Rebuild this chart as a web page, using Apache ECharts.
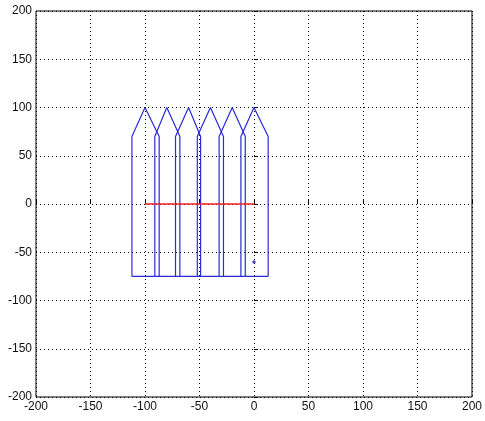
<!DOCTYPE html>
<html>
<head>
<meta charset="utf-8">
<script src="https://cdn.jsdelivr.net/npm/echarts@6/dist/echarts.min.js"></script>
<style>
  html, body { margin: 0; padding: 0; background: #fff; }
  #chart { width: 485px; height: 421px; }
</style>
</head>
<body>
<div id="chart"></div>
<script>
// 栅栏的每根木条 (左边, 尖顶, 右边)
var pickLeft  = [-112, -91, -72, -52, -32, -12];
var pickPeak  = [-100, -80, -60, -40, -20, 0];
var pickRight = [-87, -68, -49, -28, -8, 13];
var baseY = -75;
var shoulderY = 70;
var peakY = 100;
// 红线
var redX = [-100, 0];
var redY = [0, 0];
// 小点
var dotPoint = [0, -60];
var ticks = [-200, -150, -100, -50, 0, 50, 100, 150, 200];

var blue = '#2a2ad8';
var series = [];
for (var i = 0; i < pickPeak.length; i++) {
    series.push({
        type: 'line',
        data: [
            [pickLeft[i], baseY], [pickLeft[i], shoulderY], [pickPeak[i], peakY],
            [pickRight[i], shoulderY], [pickRight[i], baseY]
        ],
        showSymbol: false,
        z: 5,
        lineStyle: { color: blue, width: 1.2 },
        animation: false
    });
}
// 底边
series.push({
    type: 'line',
    data: [[pickLeft[0], baseY], [pickRight[pickRight.length - 1], baseY]],
    showSymbol: false,
    z: 5,
    lineStyle: { color: blue, width: 1.2 },
    animation: false
});
series.push({
    type: 'line',
    data: [[redX[0], redY[0]], [redX[1], redY[1]]],
    showSymbol: false,
    z: 6,
    lineStyle: { color: '#ee2020', width: 1.5 },
    animation: false
});
series.push({
    type: 'scatter',
    data: [dotPoint],
    symbolSize: 3.5,
    z: 6,
    itemStyle: { color: '#2020b0' },
    animation: false
});

var axisCommon = {
    type: 'value',
    min: ticks[0],
    max: ticks[ticks.length - 1],
    interval: 50,
    axisLine: { show: false },
    axisTick: { show: true, inside: true, length: 4, lineStyle: { color: '#000' } },
    axisLabel: { color: '#111', fontSize: 12, fontFamily: 'Liberation Sans, Arial, sans-serif', margin: 4 },
    splitLine: { show: true, lineStyle: { color: '#000', type: [1, 3], width: 1 } }
};

var option = {
    backgroundColor: '#fff',
    grid: {
        left: 36, right: 10, top: 11, bottom: 24,
        show: true, borderColor: '#000', borderWidth: 1,
        containLabel: false
    },
    xAxis: Object.assign({}, axisCommon),
    yAxis: Object.assign({}, axisCommon),
    series: series
};

var myChart = echarts.init(document.getElementById('chart'));
myChart.setOption(option);
</script>
</body>
</html>
